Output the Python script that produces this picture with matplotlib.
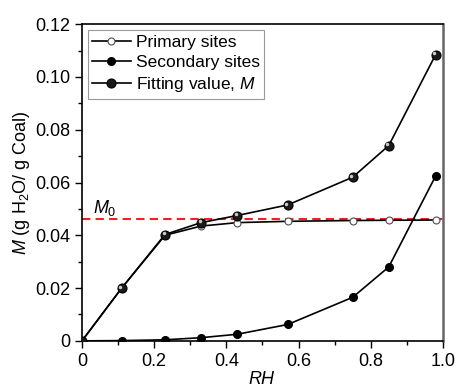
import matplotlib
matplotlib.use('Agg')
import matplotlib.pyplot as plt
from matplotlib.transforms import offset_copy

plt.rcParams['font.family'] = ['Liberation Sans', 'DejaVu Sans']
plt.rcParams['mathtext.fontset'] = 'custom'
plt.rcParams['mathtext.rm'] = 'Liberation Sans'
plt.rcParams['mathtext.it'] = 'Liberation Sans:italic'

rh = [0, 0.11, 0.23, 0.33, 0.43, 0.57, 0.75, 0.85, 0.98]
primary = [0, 0.0200, 0.0400, 0.0435, 0.0448, 0.0453, 0.0456, 0.0457, 0.0458]
secondary = [0, 0.0001, 0.0004, 0.0012, 0.0025, 0.0062, 0.0165, 0.0280, 0.0625]
fitting = [0, 0.0200, 0.0403, 0.0448, 0.0475, 0.0515, 0.0620, 0.0740, 0.1085]
m0 = 0.046

fig = plt.figure(figsize=(4.58, 3.9), dpi=100)
ax = fig.add_axes([0.179, 0.126, 0.788, 0.812])

ax.axhline(m0, color='#ee2222', ls=(0, (4, 2.5)), lw=1.5, zorder=1)
ax.plot(rh, primary, color='black', lw=1.2, marker='o', ms=5,
        mfc='white', mec='0.3', mew=0.8, label='Primary sites', zorder=3)
ax.plot(rh, secondary, color='black', lw=1.2, marker='o', ms=5.5,
        mfc='black', mec='black', label='Secondary sites', zorder=3)
ax.plot(rh, fitting, color='black', lw=1.2, marker='o', ms=6.5,
        mfc='0.1', mec='black', mew=0.8, label='Fitting value, $M$', zorder=4)
# small highlight to give the sphere look
hl = offset_copy(ax.transData, fig=fig, x=-1.0, y=1.0, units='points')
ax.plot(rh[1:], fitting[1:], ls='none', marker='o', ms=2.5, mfc='0.8',
        mec='none', transform=hl, zorder=5)

ax.text(0.03, 0.0485, '$M_0$', fontsize=13)

ax.set_xlim(0, 1.0)
ax.set_ylim(0, 0.12)
ax.set_xticks([0, 0.2, 0.4, 0.6, 0.8, 1.0])
ax.set_xticklabels(['0', '0.2', '0.4', '0.6', '0.8', '1.0'])
ax.set_yticks([0, 0.02, 0.04, 0.06, 0.08, 0.10, 0.12])
ax.set_yticklabels(['0', '0.02', '0.04', '0.06', '0.08', '0.10', '0.12'])
ax.set_xticks([0.1, 0.3, 0.5, 0.7, 0.9], minor=True)
ax.set_yticks([0.01, 0.03, 0.05, 0.07, 0.09, 0.11], minor=True)
ax.tick_params(which='major', direction='out', length=5, width=1, labelsize=13)
ax.tick_params(which='minor', direction='out', length=3, width=1)
for s in ax.spines.values():
    s.set_linewidth(1.2)
ax.spines['right'].set_color('0.4')
ax.spines['right'].set_linewidth(1.8)

ax.set_xlabel('$RH$', fontsize=13, labelpad=1)
ax.set_ylabel('$M$ (g H$_2$O/ g Coal)', fontsize=13, labelpad=2)

leg = ax.legend(loc='upper left', fontsize=12.5, frameon=True, fancybox=False,
                handlelength=2.2, handletextpad=0.3, borderpad=0.25,
                labelspacing=0.3, borderaxespad=0.35)
leg.get_frame().set_edgecolor('0.5')
leg.get_frame().set_linewidth(0.8)

fig.savefig('out.png', dpi=100)
